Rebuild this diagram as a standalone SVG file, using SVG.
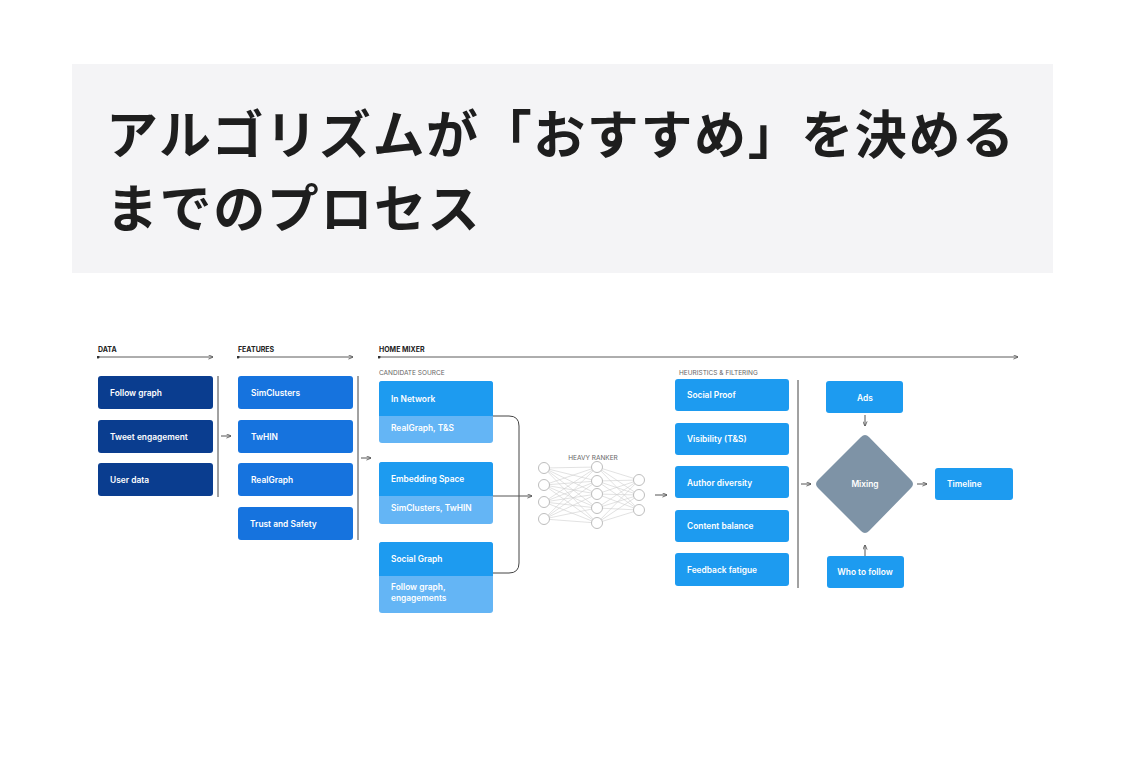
<svg xmlns="http://www.w3.org/2000/svg" width="1125" height="757" viewBox="0 0 1125 757">
<defs>
<marker id="ah" viewBox="0 0 6 6" refX="5.5" refY="3" markerWidth="5" markerHeight="5" markerUnits="userSpaceOnUse" orient="auto"><path d="M0,0.5 L6,3 L0,5.5" fill="none" stroke="#555" stroke-width="1"/></marker>
<marker id="dot" viewBox="0 0 4 4" refX="2" refY="2" markerWidth="3" markerHeight="3" markerUnits="userSpaceOnUse"><circle cx="2" cy="2" r="2" fill="#333"/></marker>
<style>
.t{font-family:"Noto Sans CJK JP","Noto Sans",sans-serif;font-weight:700;font-size:52px;fill:#1e1e1e;letter-spacing:1.6px}
.hd{font-family:Inter,"Liberation Sans",sans-serif;font-weight:700;font-size:7px;fill:#222}
.sub{font-family:Inter,"Liberation Sans",sans-serif;font-weight:400;font-size:6.5px;fill:#666}
.bl{font-family:Inter,"Liberation Sans",sans-serif;font-weight:600;font-size:8.4px;fill:#fff}
.navy{fill:#0a3d8f}
.blue{fill:#1673de}
.sky{fill:#1d9bf0}
.lite{fill:#64b5f5}
.ln{stroke:#444;stroke-width:1;fill:none}
.arr{stroke:#555;stroke-width:1;fill:none;marker-end:url(#ah)}
.hline{stroke:#333;stroke-width:0.8;fill:none;marker-start:url(#dot);marker-end:url(#ah)}
.nn{stroke:#cfcfcf;stroke-width:0.6}
.nd{fill:#fff;stroke:#b5b5b5;stroke-width:0.9}
</style>
</defs>
<rect x="72" y="64" width="981" height="209" fill="#f4f4f6"/>
<text class="t" x="106" y="154">アルゴリズムが「おすすめ」を決める</text>
<text class="t" x="106" y="228">までのプロセス</text>

<g id="headers">
<text class="hd" x="98" y="352">DATA</text>
<text class="hd" x="238" y="352">FEATURES</text>
<text class="hd" x="379" y="352">HOME MIXER</text>
<text class="sub" x="379" y="375">CANDIDATE SOURCE</text>
<text class="sub" x="679" y="375">HEURISTICS &amp; FILTERING</text>
<text class="sub" x="593" y="460" text-anchor="middle">HEAVY RANKER</text>
</g>

<g id="connectors">
<path class="hline" d="M98,357 H213"/>
<path class="hline" d="M238,357 H353"/>
<path class="hline" d="M379,357 H1018"/>
<path class="ln" d="M218,376 V497"/>
<path class="arr" d="M221,436 H231"/>
<path class="ln" d="M358,376 V540"/>
<path class="arr" d="M361,458 H371"/>
<path class="ln" d="M493,416 H509 Q519,416 519,426 V563 Q519,573 509,573 H493"/>
<path class="arr" d="M493,496 H532"/>
<path class="arr" d="M655,495 H667"/>
<path class="ln" d="M798,380 V588"/>
<path class="arr" d="M801,484 H811"/>
<path class="arr" d="M865,415 V426"/>
<path class="arr" d="M865,556 V545"/>
<path class="arr" d="M917,484 H927"/>
</g>

<g id="data-follow"><rect class="navy" x="98" y="376" width="115" height="33" rx="3"/><text class="bl" x="110" y="396">Follow graph</text></g>
<g id="data-tweet"><rect class="navy" x="98" y="420" width="115" height="33" rx="3"/><text class="bl" x="110" y="440">Tweet engagement</text></g>
<g id="data-user"><rect class="navy" x="98" y="463" width="115" height="33" rx="3"/><text class="bl" x="110" y="483">User data</text></g>

<g id="feat-simclusters"><rect class="blue" x="238" y="376" width="115" height="33" rx="3"/><text class="bl" x="251" y="396">SimClusters</text></g>
<g id="feat-twhin"><rect class="blue" x="238" y="420" width="115" height="33" rx="3"/><text class="bl" x="251" y="440">TwHIN</text></g>
<g id="feat-realgraph"><rect class="blue" x="238" y="463" width="115" height="33" rx="3"/><text class="bl" x="251" y="483">RealGraph</text></g>
<g id="feat-trust"><rect class="blue" x="238" y="507" width="115" height="33" rx="3"/><text class="bl" x="250" y="527">Trust and Safety</text></g>

<g id="cand-innetwork">
<rect class="lite" x="379" y="381" width="114" height="62" rx="3"/>
<path class="sky" d="M379,416 V384 Q379,381 382,381 H490 Q493,381 493,384 V416 Z"/>
<text class="bl" x="391" y="402">In Network</text>
<text class="bl" x="391" y="431">RealGraph, T&amp;S</text>
</g>
<g id="cand-embedding">
<rect class="lite" x="379" y="462" width="114" height="62" rx="3"/>
<path class="sky" d="M379,496 V465 Q379,462 382,462 H490 Q493,462 493,465 V496 Z"/>
<text class="bl" x="391" y="482">Embedding Space</text>
<text class="bl" x="391" y="511">SimClusters, TwHIN</text>
</g>
<g id="cand-social">
<rect class="lite" x="379" y="542" width="114" height="71" rx="3"/>
<path class="sky" d="M379,576 V545 Q379,542 382,542 H490 Q493,542 493,545 V576 Z"/>
<text class="bl" x="391" y="562">Social Graph</text>
<text class="bl" x="391" y="590">Follow graph,</text>
<text class="bl" x="391" y="601">engagements</text>
</g>

<g id="heavy-ranker">
<g class="nn">
<path d="M544,468 L597,467 M544,468 L597,481 M544,468 L597,494 M544,468 L597,508 M544,468 L597,523
M544,485 L597,467 M544,485 L597,481 M544,485 L597,494 M544,485 L597,508 M544,485 L597,523
M544,502 L597,467 M544,502 L597,481 M544,502 L597,494 M544,502 L597,508 M544,502 L597,523
M544,519 L597,467 M544,519 L597,481 M544,519 L597,494 M544,519 L597,508 M544,519 L597,523
M597,467 L639,480 M597,467 L639,495 M597,467 L639,510
M597,481 L639,480 M597,481 L639,495 M597,481 L639,510
M597,494 L639,480 M597,494 L639,495 M597,494 L639,510
M597,508 L639,480 M597,508 L639,495 M597,508 L639,510
M597,523 L639,480 M597,523 L639,495 M597,523 L639,510"/>
</g>
<circle class="nd" cx="544" cy="468" r="5.5"/>
<circle class="nd" cx="544" cy="485" r="5.5"/>
<circle class="nd" cx="544" cy="502" r="5.5"/>
<circle class="nd" cx="544" cy="519" r="5.5"/>
<circle class="nd" cx="597" cy="467" r="5.5"/>
<circle class="nd" cx="597" cy="481" r="5.5"/>
<circle class="nd" cx="597" cy="494" r="5.5"/>
<circle class="nd" cx="597" cy="508" r="5.5"/>
<circle class="nd" cx="597" cy="523" r="5.5"/>
<circle class="nd" cx="639" cy="480" r="5.5"/>
<circle class="nd" cx="639" cy="495" r="5.5"/>
<circle class="nd" cx="639" cy="510" r="5.5"/>
</g>

<g id="heur-social"><rect class="sky" x="675" y="379" width="114" height="32" rx="3"/><text class="bl" x="687" y="398">Social Proof</text></g>
<g id="heur-visibility"><rect class="sky" x="675" y="423" width="114" height="32" rx="3"/><text class="bl" x="687" y="442">Visibility (T&amp;S)</text></g>
<g id="heur-author"><rect class="sky" x="675" y="466" width="114" height="32" rx="3"/><text class="bl" x="687" y="486">Author diversity</text></g>
<g id="heur-content"><rect class="sky" x="675" y="510" width="114" height="32" rx="3"/><text class="bl" x="687" y="529">Content balance</text></g>
<g id="heur-feedback"><rect class="sky" x="675" y="553" width="114" height="33" rx="3"/><text class="bl" x="687" y="573">Feedback fatigue</text></g>

<g id="ads"><rect class="sky" x="826" y="381" width="77" height="32" rx="3"/><text class="bl" x="865" y="401" text-anchor="middle">Ads</text></g>
<g id="mixing"><path d="M861,437 Q865,433 869,437 L911,480 Q915,484 911,488 L869,531 Q865,535 861,531 L818,488 Q814,484 818,480 Z" fill="#7e93a6"/><text class="bl" x="865" y="487" text-anchor="middle">Mixing</text></g>
<g id="who-to-follow"><rect class="sky" x="827" y="556" width="77" height="32" rx="3"/><text class="bl" x="865" y="575" text-anchor="middle">Who to follow</text></g>
<g id="timeline"><rect class="sky" x="935" y="468" width="78" height="32" rx="3"/><text class="bl" x="947" y="487">Timeline</text></g>
</svg>
